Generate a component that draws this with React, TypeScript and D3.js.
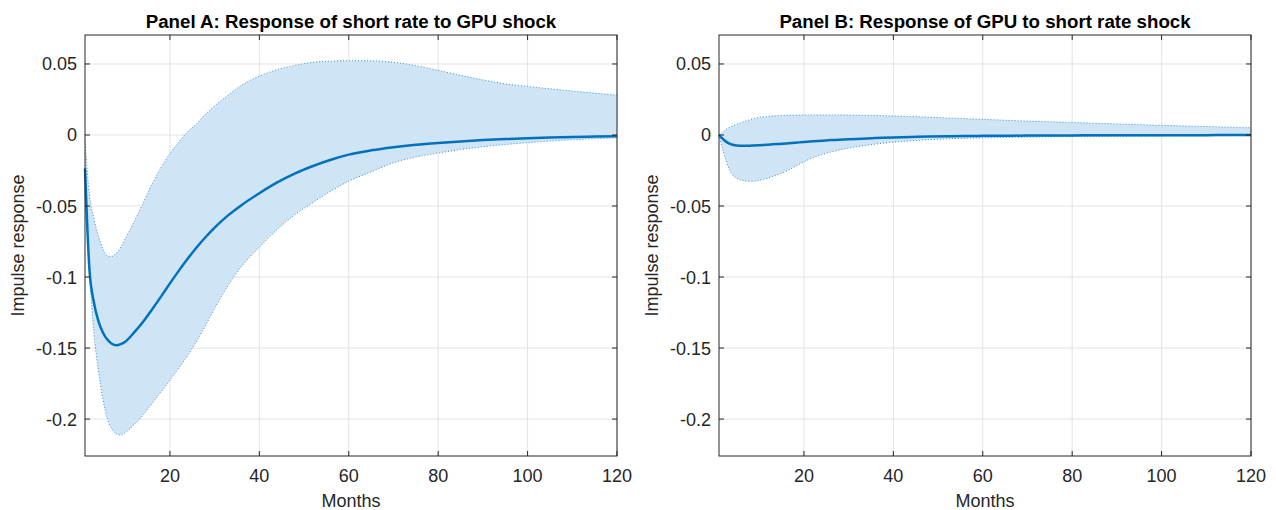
import React from 'react';
import * as d3 from 'd3';

// Horizon (months) at which values were read
const months = [1, 2, 3, 4, 5, 6, 7, 8, 9, 10, 12, 14, 16, 18, 20, 22, 24, 26, 28, 30, 33, 36, 40, 44, 48, 52, 56, 60, 65, 70, 75, 80, 85, 90, 95, 100, 105, 110, 115, 120];

// Panel A: Response of short rate to GPU shock
const medianA = [-0.0235, -0.095, -0.118, -0.131, -0.139, -0.144, -0.147, -0.148, -0.1472, -0.1455, -0.139, -0.1315, -0.1228, -0.1138, -0.1045, -0.0955, -0.087, -0.079, -0.0718, -0.0652, -0.0566, -0.0494, -0.041, -0.0334, -0.027, -0.0218, -0.0174, -0.0138, -0.0108, -0.0086, -0.0069, -0.0056, -0.0045, -0.0036, -0.0029, -0.0023, -0.0018, -0.0014, -0.0011, -0.0008];
const upperA = [-0.004, -0.042, -0.059, -0.071, -0.08, -0.085, -0.0855, -0.083, -0.079, -0.073, -0.061, -0.048, -0.0345, -0.023, -0.013, -0.005, 0.0025, 0.008, 0.0148, 0.0205, 0.028, 0.035, 0.0415, 0.046, 0.049, 0.0512, 0.052, 0.0523, 0.0522, 0.0512, 0.0488, 0.0455, 0.042, 0.0388, 0.036, 0.0342, 0.0325, 0.031, 0.0295, 0.028];
const lowerA = [-0.042, -0.097, -0.14, -0.166, -0.186, -0.2, -0.207, -0.2105, -0.2112, -0.2095, -0.204, -0.197, -0.189, -0.181, -0.1725, -0.164, -0.155, -0.145, -0.134, -0.122, -0.106, -0.0925, -0.079, -0.0665, -0.056, -0.0475, -0.0395, -0.0325, -0.026, -0.0195, -0.0155, -0.0127, -0.0102, -0.0083, -0.0067, -0.0054, -0.0043, -0.0034, -0.0026, -0.002];

// Panel B: Response of GPU to short rate shock
const medianB = [0, -0.0032, -0.0056, -0.0069, -0.0074, -0.0076, -0.0076, -0.0075, -0.0074, -0.0072, -0.0068, -0.0064, -0.006, -0.0055, -0.0049, -0.0044, -0.004, -0.0036, -0.0033, -0.003, -0.0026, -0.0022, -0.0017, -0.0014, -0.0011, -0.0009, -0.0007, -0.0006, -0.0005, -0.0004, -0.0003, -0.0003, -0.0002, -0.0002, -0.0001, -0.0001, -0.0001, -0.0001, 0, 0];
const upperB = [0, 0.0025, 0.0048, 0.0063, 0.0076, 0.0087, 0.0098, 0.0108, 0.0117, 0.0124, 0.0131, 0.0135, 0.0138, 0.014, 0.0141, 0.0141, 0.0141, 0.0141, 0.0141, 0.014, 0.0139, 0.0137, 0.0134, 0.013, 0.0125, 0.012, 0.0115, 0.011, 0.0104, 0.0098, 0.0093, 0.0088, 0.0083, 0.0078, 0.0073, 0.0068, 0.0064, 0.006, 0.0055, 0.0051];
const lowerB = [0, -0.012, -0.022, -0.028, -0.0305, -0.0318, -0.0324, -0.0326, -0.0325, -0.0318, -0.0303, -0.0282, -0.0255, -0.0222, -0.0188, -0.016, -0.0138, -0.012, -0.0105, -0.0092, -0.0077, -0.0064, -0.005, -0.0041, -0.0033, -0.0027, -0.0023, -0.002, -0.0017, -0.0015, -0.0013, -0.0011, -0.001, -0.0009, -0.0008, -0.0007, -0.0006, -0.0006, -0.0005, -0.0005];

const titles = ['Panel A: Response of short rate to GPU shock', 'Panel B: Response of GPU to short rate shock'];
const yTicks = [0.05, 0, -0.05, -0.1, -0.15, -0.2];
const yTickLabels = ['0.05', '0', '-0.05', '-0.1', '-0.15', '-0.2'];
const xTicks = [20, 40, 60, 80, 100, 120];
const xTickLabels = ['20', '40', '60', '80', '100', '120'];
const xLabel = 'Months';
const yLabel = 'Impulse response';

const W = 1276;
const H = 510;
const TOP = 35;
const BOTTOM = 456;
const FONT = '"Liberation Sans", Arial, Helvetica, sans-serif';
const AX = '#262626';
const GRID = '#e3e3e3';
const BLUE = '#0072BD';
const FILL = '#cfe4f4';
const TICK = 5;

type PanelProps = {
  left: number;
  right: number;
  title: string;
  median: number[];
  lower: number[];
  upper: number[];
};

function Panel({ left, right, title, median, lower, upper }: PanelProps) {
  const x = d3.scaleLinear().domain([1, 120]).range([left, right]);
  const y = d3.scaleLinear().domain([-0.226, 0.0704]).range([BOTTOM, TOP]);
  const idx = months.map((_, i) => i);
  const area = d3
    .area<number>()
    .x((i) => x(months[i]))
    .y0((i) => y(lower[i]))
    .y1((i) => y(upper[i]))
    .curve(d3.curveMonotoneX);
  const line = (vals: number[]) =>
    d3
      .line<number>()
      .x((i) => x(months[i]))
      .y((i) => y(vals[i]))
      .curve(d3.curveMonotoneX)(idx) || '';
  const cx = (left + right) / 2;
  const cy = (TOP + BOTTOM) / 2;
  return (
    <g>
      {/* grid */}
      {xTicks.map((t) => (
        <line key={'gx' + t} x1={x(t)} x2={x(t)} y1={TOP} y2={BOTTOM} stroke={GRID} strokeWidth={1} />
      ))}
      {yTicks.map((t) => (
        <line key={'gy' + t} x1={left} x2={right} y1={y(t)} y2={y(t)} stroke={GRID} strokeWidth={1} />
      ))}
      {/* band */}
      <path d={area(idx) || ''} fill={FILL} stroke="none" />
      <path d={line(upper)} fill="none" stroke="#3a8fd0" strokeWidth={1} strokeDasharray="1 2" />
      <path d={line(lower)} fill="none" stroke="#3a8fd0" strokeWidth={1} strokeDasharray="1 2" />
      {/* median */}
      <path d={line(median)} fill="none" stroke={BLUE} strokeWidth={2.5} strokeLinejoin="round" />
      {/* box */}
      <rect x={left} y={TOP} width={right - left} height={BOTTOM - TOP} fill="none" stroke={AX} strokeWidth={1} />
      {/* ticks */}
      {xTicks.map((t) => (
        <g key={'tx' + t}>
          <line x1={x(t)} x2={x(t)} y1={BOTTOM} y2={BOTTOM - TICK} stroke={AX} />
          <line x1={x(t)} x2={x(t)} y1={TOP} y2={TOP + TICK} stroke={AX} />
        </g>
      ))}
      {yTicks.map((t) => (
        <g key={'ty' + t}>
          <line x1={left} x2={left + TICK} y1={y(t)} y2={y(t)} stroke={AX} />
          <line x1={right} x2={right - TICK} y1={y(t)} y2={y(t)} stroke={AX} />
        </g>
      ))}
      {/* tick labels */}
      {xTicks.map((t, i) => (
        <text key={'lx' + t} x={x(t)} y={481.5} textAnchor="middle" fontSize={18} fill={AX} fontFamily={FONT}>
          {xTickLabels[i]}
        </text>
      ))}
      {yTicks.map((t, i) => (
        <text key={'ly' + t} x={left - 8} y={y(t) + 6.5} textAnchor="end" fontSize={18} fill={AX} fontFamily={FONT}>
          {yTickLabels[i]}
        </text>
      ))}
      {/* labels */}
      <text x={cx} y={506.5} textAnchor="middle" fontSize={18} fill={AX} fontFamily={FONT}>
        {xLabel}
      </text>
      <text
        transform={`translate(${left - 61},${cy}) rotate(-90)`}
        textAnchor="middle"
        fontSize={18}
        fill={AX}
        fontFamily={FONT}
      >
        {yLabel}
      </text>
      <text x={cx} y={28} textAnchor="middle" fontSize={18.7} fontWeight="bold" fill="#000" fontFamily={FONT}>
        {title}
      </text>
    </g>
  );
}

export default function App() {
  return (
    <svg
      width={W}
      height={H}
      viewBox={`0 0 ${W} ${H}`}
      style={{ position: 'absolute', left: 0, top: 0, background: '#fff' }}
    >
      <rect width={W} height={H} fill="#fff" />
      <Panel left={85} right={617} title={titles[0]} median={medianA} lower={lowerA} upper={upperA} />
      <Panel left={719} right={1251} title={titles[1]} median={medianB} lower={lowerB} upper={upperB} />
    </svg>
  );
}
